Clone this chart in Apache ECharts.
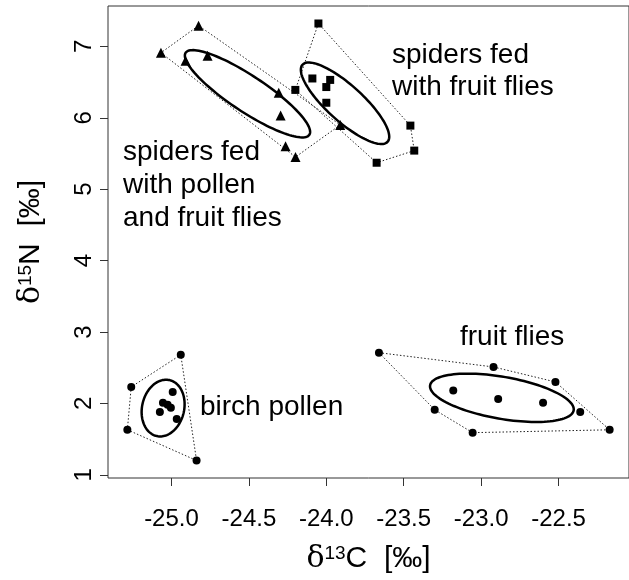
<!DOCTYPE html>
<html>
<head>
<meta charset="utf-8">
<script src="https://cdn.jsdelivr.net/npm/echarts@6/dist/echarts.min.js"></script>
<style>
html, body { margin: 0; padding: 0; background: #fff; }
#chart { width: 629px; height: 580px; }
</style>
</head>
<body>
<div id="chart"></div>
<script>
// delta13C / delta15N values
var pollenFlySpiders = [
  [-24.825, 7.29], [-25.068, 6.91], [-24.909, 6.80], [-24.767, 6.87],
  [-24.307, 6.35], [-24.295, 6.03], [-24.263, 5.60], [-24.199, 5.45],
  [-23.910, 5.90]
];
var flySpiders = [
  [-24.051, 7.32], [-24.090, 6.55], [-23.975, 6.53], [-24.000, 6.43],
  [-24.000, 6.21], [-24.200, 6.39], [-23.457, 5.89], [-23.432, 5.54],
  [-23.675, 5.37]
];
var birchPollen = [
  [-24.940, 2.68], [-25.260, 2.23], [-25.285, 1.63], [-24.838, 1.20],
  [-24.992, 2.16], [-25.055, 2.01], [-25.075, 1.88], [-25.004, 1.94],
  [-24.966, 1.78], [-25.025, 1.98]
];
var fruitFlies = [
  [-23.660, 2.71], [-22.920, 2.51], [-22.520, 2.30], [-22.360, 1.88],
  [-22.170, 1.63], [-23.055, 1.59], [-23.300, 1.91], [-23.180, 2.18],
  [-22.890, 2.06], [-22.600, 2.01]
];

var xTicks = [-25.0, -24.5, -24.0, -23.5, -23.0, -22.5];
var yTicks = [1, 2, 3, 4, 5, 6, 7];

// standard ellipses: centre x, centre y, half major axis (dx, dy), half minor axis (dx, dy)
var ellipses = [
  [-24.509, 6.336, 0.3996, -0.574, -0.0631, -0.2108],
  [-23.879, 6.203, 0.2749, -0.5392, -0.0768, -0.1877],
  [-25.054, 1.934, 0.019, 0.397, 0.1375, 0],
  [-22.866, 2.078, 0.4636, -0.1751, -0.0228, -0.2899]
];

// convex hull (monotone chain), closed for drawing
function hull(pts) {
  var p = pts.slice().sort(function (a, b) { return a[0] - b[0] || a[1] - b[1]; });
  function cross(o, a, b) { return (a[0] - o[0]) * (b[1] - o[1]) - (a[1] - o[1]) * (b[0] - o[0]); }
  var lower = [], upper = [];
  p.forEach(function (q) {
    while (lower.length >= 2 && cross(lower[lower.length - 2], lower[lower.length - 1], q) <= 0) lower.pop();
    lower.push(q);
  });
  p.slice().reverse().forEach(function (q) {
    while (upper.length >= 2 && cross(upper[upper.length - 2], upper[upper.length - 1], q) <= 0) upper.pop();
    upper.push(q);
  });
  var h = lower.slice(0, -1).concat(upper.slice(0, -1));
  h.push(h[0]);
  return h;
}

function hullSeries(pts) {
  return {
    type: 'line',
    data: hull(pts),
    showSymbol: false,
    silent: true,
    z: 1,
    lineStyle: { color: '#222', width: 1, type: [1.5, 2] }
  };
}

function pointSeries(pts, symbol, size) {
  return {
    type: 'scatter',
    data: pts,
    symbol: symbol,
    symbolSize: size,
    z: 3,
    itemStyle: { color: '#000', opacity: 1 }
  };
}

var chart = echarts.init(document.getElementById('chart'));
var font = 'Liberation Sans';

chart.setOption({
  animation: false,
  grid: {
    left: 108, top: 6, width: 526, height: 472,
    show: true, borderColor: '#333', borderWidth: 1
  },
  xAxis: {
    type: 'value',
    min: -25.41, max: -22.045,
    splitLine: { show: false },
    axisLine: { show: false },
    axisTick: { show: true, length: 8, customValues: xTicks, lineStyle: { color: '#333' } },
    axisLabel: {
      customValues: xTicks, color: '#000', fontSize: 24, fontFamily: font, margin: 29,
      formatter: function (v) { return v.toFixed(1); }
    },
    name: '{g|δ}{s|13}{t|C  [‰]}',
    nameLocation: 'middle',
    nameGap: 66,
    nameTextStyle: {
      rich: {
        g: { fontFamily: 'DejaVu Serif', fontSize: 30, color: '#000' },
        s: { fontFamily: font, fontSize: 19, color: '#000', verticalAlign: 'top' },
        t: { fontFamily: font, fontSize: 30, color: '#000' }
      }
    }
  },
  yAxis: {
    type: 'value',
    min: 0.955, max: 7.565,
    splitLine: { show: false },
    axisLine: { show: false },
    axisTick: { show: true, length: 8, customValues: yTicks, lineStyle: { color: '#333' } },
    axisLabel: { customValues: yTicks, color: '#000', fontSize: 24, fontFamily: font, rotate: 90, margin: 12 },
    name: '{g|δ}{s|15}{t|N  [‰]}',
    nameLocation: 'middle',
    nameRotate: 90,
    nameGap: 62,
    nameTextStyle: {
      rich: {
        g: { fontFamily: 'DejaVu Serif', fontSize: 30, color: '#000' },
        s: { fontFamily: font, fontSize: 19, color: '#000', verticalAlign: 'top' },
        t: { fontFamily: font, fontSize: 30, color: '#000' }
      }
    }
  },
  graphic: [
    { type: 'text', left: 392, top: 39, style: { text: 'spiders fed\nwith fruit flies', fontSize: 28, fontFamily: font, lineHeight: 32, fill: '#000' } },
    { type: 'text', left: 123, top: 136, style: { text: 'spiders fed\nwith pollen\nand fruit flies', fontSize: 28, fontFamily: font, lineHeight: 33, fill: '#000' } },
    { type: 'text', left: 460, top: 321, style: { text: 'fruit flies', fontSize: 28, fontFamily: font, lineHeight: 33, fill: '#000' } },
    { type: 'text', left: 200, top: 391, style: { text: 'birch pollen', fontSize: 28, fontFamily: font, lineHeight: 33, fill: '#000' } }
  ],
  series: [
    hullSeries(pollenFlySpiders),
    hullSeries(flySpiders),
    hullSeries(birchPollen),
    hullSeries(fruitFlies),
    {
      type: 'custom',
      data: ellipses,
      z: 2,
      silent: true,
      encode: { x: 0, y: 1 },
      renderItem: function (params, api) {
        var pts = [];
        for (var i = 0; i < 120; i++) {
          var t = i / 120 * Math.PI * 2;
          pts.push(api.coord([
            api.value(0) + api.value(2) * Math.cos(t) + api.value(4) * Math.sin(t),
            api.value(1) + api.value(3) * Math.cos(t) + api.value(5) * Math.sin(t)
          ]));
        }
        return { type: 'polygon', shape: { points: pts }, style: { fill: 'none', stroke: '#000', lineWidth: 2.5 } };
      }
    },
    pointSeries(pollenFlySpiders, 'triangle', 10),
    pointSeries(flySpiders, 'rect', 8),
    pointSeries(birchPollen, 'circle', 8),
    pointSeries(fruitFlies, 'circle', 8)
  ]
});
</script>
</body>
</html>
